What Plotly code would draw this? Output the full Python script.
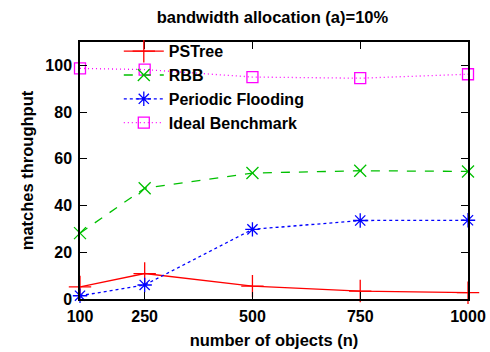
import plotly.graph_objects as go

objects = [100, 250, 500, 750, 1000]
pstree = [5.2, 10.9, 5.5, 3.4, 2.7]
rbb = [28.2, 47.4, 53.9, 54.9, 54.6]
periodic = [1.4, 6.0, 29.8, 33.6, 33.7]
ideal = [98.7, 98.2, 95.0, 94.5, 96.2]
x_ticks = [100, 250, 500, 750, 1000]
y_ticks = [0, 20, 40, 60, 80, 100]

font = "Liberation Sans, Arial, sans-serif"
bfont = lambda s: dict(family=font, size=s, color="black", weight="bold")

fig = go.Figure()
series = [
    ("PSTree", pstree, "#ff0000", "solid", "cross-thin", 16),
    ("RBB", rbb, "#00c000", "dash", "x-thin", 12),
    ("Periodic Flooding", periodic, "#0000ff", "dot", "asterisk", 12),
    ("Ideal Benchmark", ideal, "#ff00ff", "1px 3px", "square-open", 11),
]
for name, vals, col, dash, sym, size in series:
    fig.add_trace(go.Scatter(
        x=objects, y=vals, name=name, mode="lines+markers",
        line=dict(color=col, width=1.3, dash=dash),
        marker=dict(symbol=sym, size=size, color=col, line=dict(color=col, width=1.3)),
        cliponaxis=False,
    ))

axis_common = dict(
    showline=True, linecolor="black", linewidth=1.5, mirror="ticks",
    ticks="inside", ticklen=7, tickwidth=1.2, tickcolor="black",
    showgrid=False, zeroline=False,
    tickfont=bfont(16), automargin=False,
)
fig.update_xaxes(range=[100, 1000], tickvals=x_ticks, ticklabelstandoff=2,
                 title=dict(text="number of objects (n)", font=bfont(16.5), standoff=10),
                 **axis_common)
fig.update_yaxes(range=[0, 110], tickvals=y_ticks, ticklabelstandoff=3,
                 title=dict(text="matches throughput", font=bfont(16.5), standoff=8),
                 **axis_common)

fig.update_layout(
    width=490, height=352,
    margin=dict(l=80, r=22, t=42, b=53),
    paper_bgcolor="white", plot_bgcolor="white",
    title=dict(text="bandwidth allocation (a)=10%", x=0.556, xanchor="center",
               yref="container", y=1 - 17 / 352, yanchor="middle",
               font=bfont(16.5)),
    legend=dict(x=0.1, y=1.03, xanchor="left", yanchor="top", bgcolor="rgba(0,0,0,0)",
                font=bfont(16), tracegroupgap=0, itemwidth=40),
    showlegend=True,
)
fig.write_html("out.html", config={"displayModeBar": False},
               post_script="document.body.style.margin='0';")
